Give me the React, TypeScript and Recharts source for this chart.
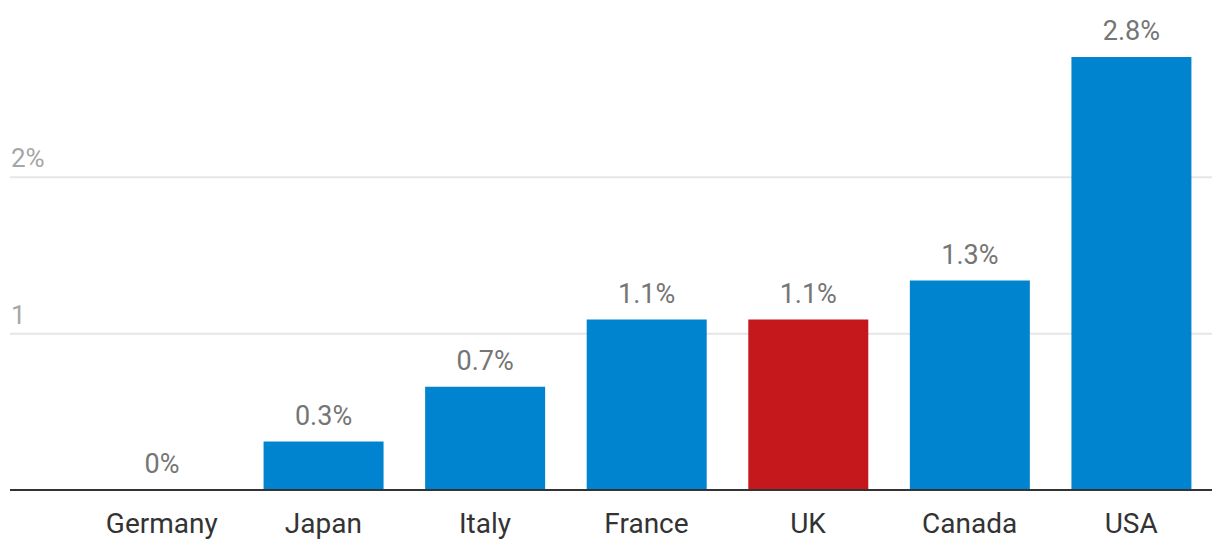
import React from "react";
import { BarChart, Bar, XAxis, YAxis, CartesianGrid, Cell, LabelList } from "recharts";

const countries = ["Germany", "Japan", "Italy", "France", "UK", "Canada", "USA"];
// Germany is ~0; a hair above zero so its label is still drawn
const growth = [0.002, 0.31, 0.66, 1.09, 1.09, 1.34, 2.77];
const valueLabels = ["0%", "0.3%", "0.7%", "1.1%", "1.1%", "1.3%", "2.8%"];
const highlighted = "UK";
const yTicks = [1, 2];
const yTickLabels: Record<number, string> = { 1: "1", 2: "2%" };

const BLUE = "#0084cf";
const RED = "#c4181c";
const FONT = "Roboto, sans-serif";

const data = countries.map((name, i) => ({ name, value: growth[i], label: valueLabels[i] }));

const renderYTick = (props: any) => {
  const { x, y, payload } = props;
  return (
    <text x={x + 1} y={y - 10} fill="#a6a6a6" fontSize={26} fontFamily={FONT}>
      {yTickLabels[payload.value]}
    </text>
  );
};

export default function App() {
  return (
    <div style={{ position: "absolute", left: 0, top: 0, width: 1220, height: 558, background: "#fff" }}>
      <BarChart
        width={1220}
        height={558}
        data={data}
        margin={{ top: 21, right: 8, bottom: 0, left: 10 }}
      >
        <CartesianGrid vertical={false} horizontalValues={yTicks} stroke="#e6e6e6" strokeWidth={2} />
        <YAxis
          domain={[0, 3]}
          ticks={yTicks}
          width={1}
          mirror
          interval={0}
          axisLine={false}
          tickLine={false}
          tickSize={0}
          tickMargin={0}
          tick={renderYTick}
        />
        <XAxis
          dataKey="name"
          height={68}
          padding={{ left: 71, right: 0 }}
          tickLine={false}
          tickMargin={17}
          axisLine={{ stroke: "#333", strokeWidth: 2 }}
          tick={{ fill: "#333", fontSize: 28, fontFamily: FONT }}
          interval={0}
        />
        <Bar dataKey="value" barSize={120} isAnimationActive={false}>
          {data.map((d) => (
            <Cell key={d.name} fill={d.name === highlighted ? RED : BLUE} />
          ))}
          <LabelList
            dataKey="label"
            position="top"
            offset={17}
            fill="#757575"
            fontSize={27}
            fontFamily={FONT}
          />
        </Bar>
      </BarChart>
    </div>
  );
}
